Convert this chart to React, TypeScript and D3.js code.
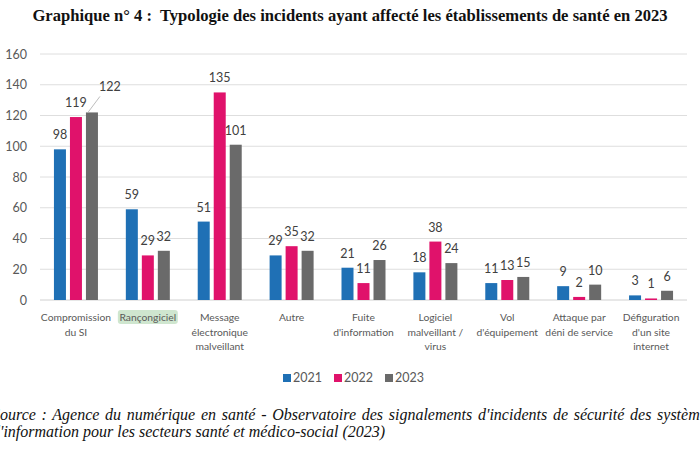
import React from "react";
import * as d3 from "d3";

const categories: string[][] = [
  ["Compromission", "du SI"],
  ["Rançongiciel"],
  ["Message", "électronique", "malveillant"],
  ["Autre"],
  ["Fuite", "d'information"],
  ["Logiciel", "malveillant /", "virus"],
  ["Vol", "d'équipement"],
  ["Attaque par", "déni de service"],
  ["Défiguration", "d'un site", "internet"],
];
const years = ["2021", "2022", "2023"];
const values2021 = [98, 59, 51, 29, 21, 18, 11, 9, 3];
const values2022 = [119, 29, 135, 35, 11, 38, 13, 2, 1];
const values2023 = [122, 32, 101, 32, 26, 24, 15, 10, 6];
const yTicks = [0, 20, 40, 60, 80, 100, 120, 140, 160];
const colors = ["#1f70b5", "#e0126b", "#6a6a6a"];
const title = "Graphique n° 4 :\u00a0 Typologie des incidents ayant affecté les établissements de santé en 2023";
const sourceLines = [
  "Source : Agence du numérique en santé - Observatoire des signalements d'incidents de sécurité des systèmes",
  "d'information pour les secteurs santé et médico-social (2023)",
];

export default function App() {
  const W = 700, H = 450;
  const series = [values2021, values2022, values2023];
  const x0 = d3.scaleBand<number>().domain(d3.range(categories.length)).range([40, 687]).padding(0);
  const x1 = d3.scaleBand<string>().domain(years).range([0, 44]).paddingInner(0.25).paddingOuter(0);
  const y = d3.scaleLinear().domain([0, 160]).range([300, 54]);
  const sans = "Lato, 'Open Sans', sans-serif";
  const groupOff = (x0.bandwidth() - 44) / 2;

  return (
    <svg width={W} height={H} style={{ position: "absolute", left: 0, top: 0, background: "#fff" }}>
      <rect width={W} height={H} fill="#fff" />
      <text x={350} y={21} textAnchor="middle" fontFamily="'Liberation Serif', serif" fontWeight="bold" fontSize={16.6} fill="#111">
        {title}
      </text>
      {yTicks.map((t) => (
        <g key={t}>
          <line x1={40} x2={687} y1={y(t)} y2={y(t)} stroke={t === 0 ? "#d0d0d0" : "#dedede"} strokeWidth={1} />
          <text x={27} y={y(t) + 4.5} textAnchor="end" fontFamily={sans} fontSize={12.5} fill="#595959">
            {t}
          </text>
        </g>
      ))}
      {categories.map((cat, i) => {
        const gx = (x0(i) as number) + groupOff;
        const cx = (x0(i) as number) + x0.bandwidth() / 2;
        return (
          <g key={i}>
            {series.map((vals, s) => {
              const v = vals[i];
              const bx = gx + (x1(years[s]) as number);
              const bw = x1.bandwidth();
              const isLeader = i === 0 && s === 2;
              return (
                <g key={s}>
                  <rect x={bx} y={y(v)} width={bw} height={y(0) - y(v)} fill={colors[s]} />
                  {isLeader ? (
                    <>
                      <line x1={bx + 2} y1={y(v)} x2={bx + 14} y2={y(v) - 16} stroke="#bdbdbd" strokeWidth={1} />
                      <text x={bx + 24} y={y(v) - 21} textAnchor="middle" fontFamily={sans} fontSize={12.5} fill="#404040">
                        {v}
                      </text>
                    </>
                  ) : (
                    <text x={bx + bw / 2} y={y(v) - 10} textAnchor="middle" fontFamily={sans} fontSize={12.5} fill="#404040">
                      {v}
                    </text>
                  )}
                </g>
              );
            })}
            {i === 1 && (
              <rect x={cx - 30} y={310} width={60} height={14} rx={3} fill="#cfe6cf" />
            )}
            {cat.map((line, k) => (
              <text key={k} x={cx} y={321 + k * 14.5} textAnchor="middle" fontFamily={sans} fontSize={10.3} fill="#595959">
                {line}
              </text>
            ))}
          </g>
        );
      })}
      {years.map((yr, s) => {
        const lx = 283 + s * 51;
        return (
          <g key={yr}>
            <rect x={lx} y={374} width={8} height={8} fill={colors[s]} />
            <text x={lx + 10} y={382} fontFamily={sans} fontSize={12.5} fill="#595959">
              {yr}
            </text>
          </g>
        );
      })}
      {sourceLines.map((l, k) => (
        <text key={k} x={-8} y={420 + k * 17} fontFamily="'Liberation Serif', serif" fontStyle="italic" fontSize={16} wordSpacing={k === 0 ? 1.7 : 0} fill="#111">
          {l}
        </text>
      ))}
    </svg>
  );
}
